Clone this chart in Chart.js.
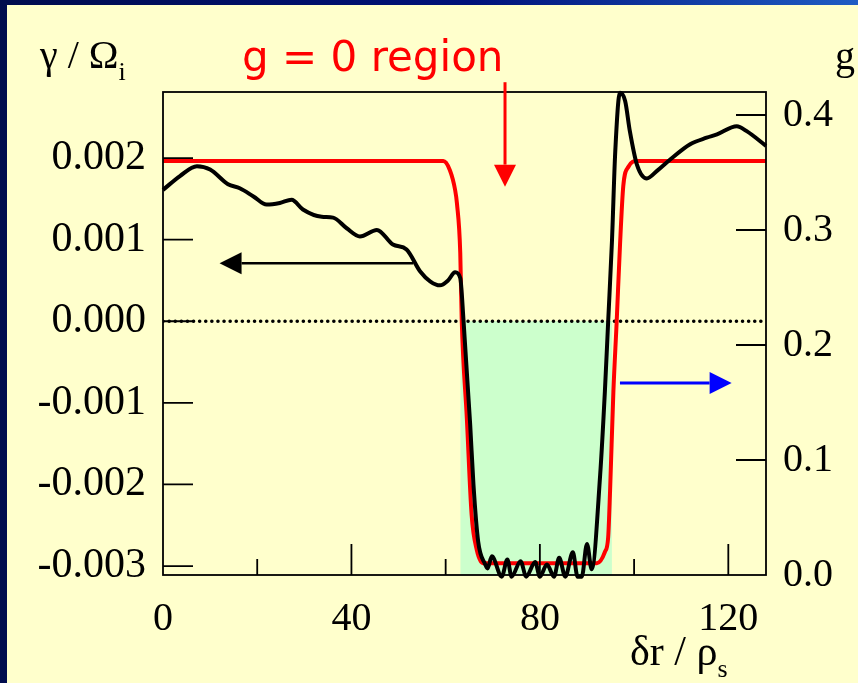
<!DOCTYPE html>
<html>
<head>
<meta charset="utf-8">
<script src="https://cdn.jsdelivr.net/npm/chart.js@4.4.0/dist/chart.umd.min.js"></script>
<style>
html, body { margin: 0; padding: 0; }
body {
    width: 858px; height: 683px; overflow: hidden; position: relative;
    background: linear-gradient(90deg, #000c4e 0%, #00127a 55%, #1f5cc4 100%);
}
#page { position: absolute; left: 7px; top: 5px; right: 0; bottom: 0; background: #ffffcc; }
#myChart { position: absolute; left: 0; top: 0; }
.lbl {
    position: absolute; white-space: nowrap; line-height: 1; color: #000;
    font-family: "Liberation Serif", "Times New Roman", serif;
}
.lbl sub { font-size: 26px; line-height: 0; vertical-align: -12px; }
#gLabel { left: 242px; top: 36px; color: #ff0000; font-family: "DejaVu Sans", Verdana, sans-serif; font-size: 42px; }
</style>
</head>
<body>
<div id="page"></div>
<canvas id="myChart" width="858" height="683"></canvas>
<div class="lbl" style="left:40px; top:35px; font-size:40px;">γ / Ω<sub>i</sub></div>
<div class="lbl" id="gLabel">g = 0 region</div>
<div class="lbl" style="left:835px; top:36px; font-size:40px;">g</div>
<div class="lbl" style="left:630px; top:630px; font-size:42px;">δr / ρ<sub>s</sub></div>
<script>
// axis ticks
const xTicks = [0, 20, 40, 60, 80, 100, 120];
const xLabelled = [0, 40, 80, 120];
const gammaTicks = [-0.003, -0.002, -0.001, 0, 0.001, 0.002];
const gTicks = [0, 0.1, 0.2, 0.3, 0.4];

// growth rate gamma / Omega_i (black, left axis)
const gammaX = [0, 3.6, 7.2, 10, 13.8, 16.3, 19.2, 22, 24.8, 27.3, 29.7, 33.7, 36.1, 39, 41.8, 45.4, 48.8, 51.7,
    54.6, 56.7, 58.8, 60.5, 62, 63.1, 63.8, 65.2, 65.9, 66.9, 68.4, 68.9,
    69.8, 71.9, 73.1, 74.0, 75.9, 77.1, 79.0, 80.0, 81.5, 83.0, 84.1, 85.4, 87.0, 88.0, 88.9, 90.0, 91.0,
    92.8, 93.8, 94.5, 95.3, 96.0, 97.0, 98.1, 99.1, 100.6, 102.7, 104.8, 107.6, 111.9, 115.4, 117.6,
    121.8, 123.9, 128];
const gammaY = [0.00161, 0.00178, 0.0019, 0.00186, 0.00168, 0.00163, 0.00153, 0.00143, 0.00145, 0.00149, 0.00137, 0.00128, 0.00127, 0.00114, 0.00104, 0.00112, 0.00094, 0.00088,
    0.00061, 0.00049, 0.00044, 0.0005, 0.0006, 0.00053, 0, -0.00126, -0.002, -0.0027, -0.00298, -0.00303,
    -0.00288, -0.00313, -0.00292, -0.00313, -0.00294, -0.00313, -0.00295, -0.00313, -0.00298, -0.00313, -0.0029, -0.00313, -0.00283, -0.00313, -0.00313, -0.00273, -0.00304,
    -0.00188, -0.00086, 0, 0.00098, 0.00208, 0.0028, 0.0027, 0.00233, 0.00192, 0.00175, 0.00184, 0.00198, 0.00217, 0.00225, 0.00229,
    0.00239, 0.00233, 0.00215];

// g profile (red, right axis)
const gX = [0, 59.5, 60.9, 62.0, 62.4, 63.1, 63.4, 64.5, 65.5, 66.6, 68.0, 92.1, 93.8, 94.5, 94.9, 95.6, 96.3, 97.0, 97.7, 98.8, 100.6, 128];
const gY = [0.36, 0.36, 0.352, 0.335, 0.323, 0.28, 0.223, 0.136, 0.053, 0.022, 0.0103, 0.0103, 0.02, 0.033, 0.073, 0.159, 0.22, 0.286, 0.338, 0.355, 0.36, 0.36];

// shaded g = 0 band (gamma < 0)
const shadeX = [63.1, 95.3];

const font = {family: 'Liberation Serif', size: 40};
const fontLeft = {family: 'Liberation Serif', size: 42};

const frameTicksArrows = {
    id: 'frameTicksArrows',
    afterDraw: function (chart) {
        const ctx = chart.ctx, a = chart.chartArea, s = chart.scales;
        ctx.save();
        ctx.strokeStyle = '#000';
        ctx.lineWidth = 1.8;
        ctx.strokeRect(a.left, a.top, a.right - a.left, a.bottom - a.top);
        ctx.beginPath();
        xTicks.forEach(v => {
            if (v === 0) return;
            const px = s.x.getPixelForValue(v);
            const len = xLabelled.includes(v) ? 31 : 16;
            ctx.moveTo(px, a.bottom);
            ctx.lineTo(px, a.bottom - len);
        });
        gammaTicks.forEach(v => {
            const py = s.y.getPixelForValue(v);
            ctx.moveTo(a.left, py);
            ctx.lineTo(a.left + 30, py);
        });
        gTicks.forEach(v => {
            if (v === 0) return;
            const py = s.y1.getPixelForValue(v);
            ctx.moveTo(a.right, py);
            ctx.lineTo(a.right - 30, py);
        });
        ctx.stroke();

        // arrows
        drawArrow(ctx, s.x.getPixelForValue(53.1), s.y.getPixelForValue(0.00071),
            s.x.getPixelForValue(12), s.y.getPixelForValue(0.00071), '#000', 2.5);
        drawArrow(ctx, s.x.getPixelForValue(72.6), s.y.getPixelForValue(0.00293),
            s.x.getPixelForValue(72.6), s.y.getPixelForValue(0.00165), '#ff0000', 3);
        drawArrow(ctx, s.x.getPixelForValue(97), s.y1.getPixelForValue(0.167),
            s.x.getPixelForValue(120.7), s.y1.getPixelForValue(0.167), '#0000ff', 3);
        ctx.restore();
    }
};

function drawArrow(ctx, x1, y1, x2, y2, color, lw) {
    const ang = Math.atan2(y2 - y1, x2 - x1);
    const hl = 22, hw = 11;
    const bx = x2 - hl * Math.cos(ang), by = y2 - hl * Math.sin(ang);
    ctx.strokeStyle = color;
    ctx.fillStyle = color;
    ctx.lineWidth = lw;
    ctx.beginPath();
    ctx.moveTo(x1, y1);
    ctx.lineTo(bx, by);
    ctx.stroke();
    ctx.beginPath();
    ctx.moveTo(x2, y2);
    ctx.lineTo(bx + hw * Math.sin(ang), by - hw * Math.cos(ang));
    ctx.lineTo(bx - hw * Math.sin(ang), by + hw * Math.cos(ang));
    ctx.closePath();
    ctx.fill();
}

const ctx = document.getElementById('myChart');
const myChart = new Chart(ctx, {
    type: 'line',
    data: {
        datasets: [{
            label: 'gamma',
            data: gammaX.map((x, i) => ({x: x, y: gammaY[i]})),
            yAxisID: 'y',
            borderColor: '#000000',
            borderWidth: 4,
            pointRadius: 0,
            cubicInterpolationMode: 'monotone',
            clip: 4,
            fill: false
        }, {
            label: 'g',
            data: gX.map((x, i) => ({x: x, y: gY[i]})),
            yAxisID: 'y1',
            borderColor: '#ff0000',
            borderWidth: 4,
            pointRadius: 0,
            cubicInterpolationMode: 'monotone',
            fill: false
        }, {
            label: 'zero',
            data: [{x: 0, y: 0}, {x: 128, y: 0}],
            yAxisID: 'y',
            borderColor: '#000000',
            borderWidth: 3.5,
            borderDash: [0.1, 6],
            borderCapStyle: 'round',
            pointRadius: 0,
            fill: false
        }, {
            label: 'shade',
            data: shadeX.map(x => ({x: x, y: 0})),
            yAxisID: 'y',
            borderWidth: 0,
            borderColor: 'rgba(0,0,0,0)',
            backgroundColor: '#ccffcc',
            pointRadius: 0,
            fill: 'start'
        }]
    },
    options: {
        responsive: false,
        animation: false,
        layout: {padding: {top: 92, left: 0, right: 0, bottom: 0}},
        plugins: {legend: {display: false}, tooltip: {enabled: false}},
        scales: {
            x: {
                type: 'linear', min: 0, max: 128,
                afterBuildTicks: sc => { sc.ticks = xTicks.map(v => ({value: v})); },
                afterFit: sc => { sc.height = 108; },
                grid: {display: false, drawTicks: false},
                border: {display: false},
                ticks: {
                    font: font, color: '#000', padding: 20, maxRotation: 0, autoSkip: false,
                    callback: v => xLabelled.includes(v) ? String(v) : ''
                }
            },
            y: {
                type: 'linear', position: 'left', min: -0.00311, max: 0.00281,
                afterBuildTicks: sc => { sc.ticks = gammaTicks.map(v => ({value: v})); },
                afterFit: sc => { sc.width = 163; },
                grid: {display: false, drawTicks: false},
                border: {display: false},
                ticks: {font: fontLeft, color: '#000', padding: 17, callback: v => v.toFixed(3)}
            },
            y1: {
                type: 'linear', position: 'right', min: 0, max: 0.42,
                afterBuildTicks: sc => { sc.ticks = gTicks.map(v => ({value: v})); },
                afterFit: sc => { sc.width = 92; },
                grid: {display: false, drawTicks: false},
                border: {display: false},
                ticks: {font: font, color: '#000', padding: 17, callback: v => v.toFixed(1)}
            }
        }
    },
    plugins: [frameTicksArrows]
});
</script>
</body>
</html>
